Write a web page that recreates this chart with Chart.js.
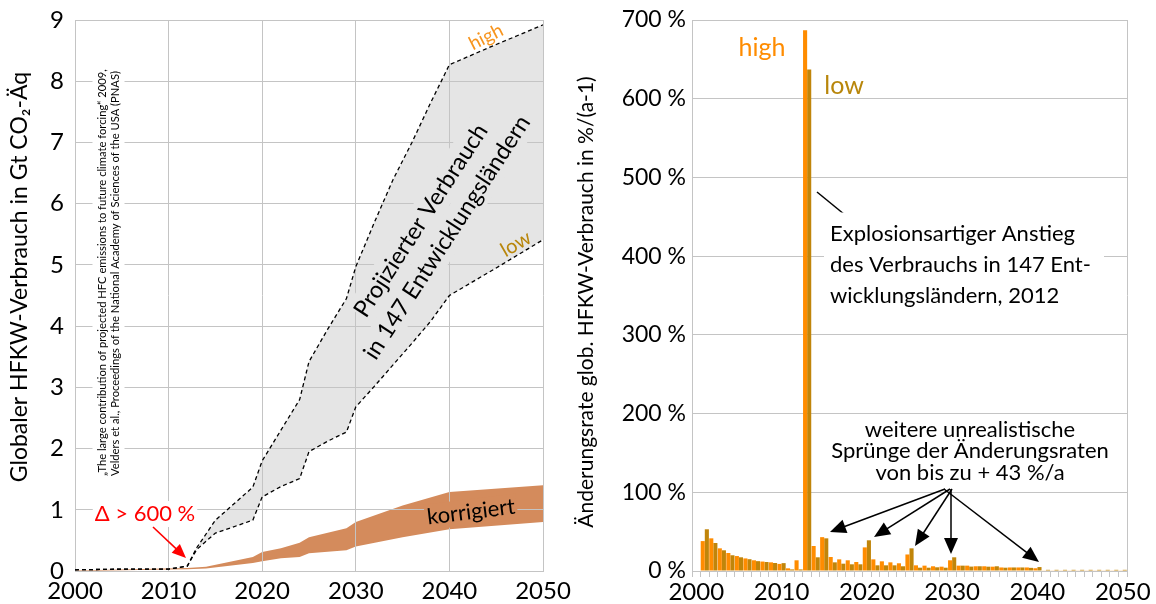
<!DOCTYPE html>
<html>
<head>
<meta charset="utf-8">
<script src="https://cdn.jsdelivr.net/npm/chart.js@4.4.0/dist/chart.umd.min.js"></script>
<style>
    html, body { margin: 0; padding: 0; background: #fff; }
    #wrap { position: relative; width: 1156px; height: 604px; overflow: hidden; }
    canvas { position: absolute; top: 0; }
    #leftChart { left: 0; }
    #rightChart { left: 560px; }
</style>
</head>
<body>
<div id="wrap">
    <canvas id="leftChart" width="578" height="604"></canvas>
    <canvas id="rightChart" width="596" height="604"></canvas>
</div>
<script>
const FONT = 'Lato, "Open Sans", sans-serif';
const GRID = '#c4c4c4';
const ORANGE = '#ff8c00';
const GOLD = '#c0850a';

// Left: projected consumption in 147 developing countries, Gt CO2-eq
const projYears = [2000, 2005, 2010, 2012, 2013, 2015, 2019, 2020, 2022, 2024, 2025, 2027, 2029, 2030, 2032, 2034, 2036, 2038, 2040, 2045, 2050];
const projHigh  = [0.02, 0.03, 0.03, 0.08, 0.38, 0.83, 1.37, 1.80, 2.30, 2.80, 3.42, 3.95, 4.45, 4.97, 5.70, 6.40, 7.00, 7.65, 8.27, 8.60, 8.92];
const projLow   = [0.02, 0.03, 0.03, 0.08, 0.35, 0.62, 0.83, 1.21, 1.38, 1.51, 1.95, 2.12, 2.27, 2.68, 3.02, 3.37, 3.72, 4.08, 4.50, 4.95, 5.41];

// Left: corrected band
const korrYears = [2000, 2012, 2014, 2019, 2020, 2022, 2024, 2025, 2029, 2030, 2035, 2040, 2050];
const korrHigh  = [0.01, 0.05, 0.07, 0.23, 0.31, 0.37, 0.46, 0.55, 0.70, 0.80, 1.07, 1.29, 1.40];
const korrLow   = [0.00, 0.03, 0.04, 0.13, 0.16, 0.21, 0.23, 0.29, 0.34, 0.40, 0.55, 0.68, 0.80];

// Right: annual rate of change in %, high and low scenario
const rateYears = ['2000', '2001', '2002', '2003', '2004', '2005', '2006', '2007', '2008', '2009',
    '2010', '2011', '2012', '2013', '2014', '2015', '2016', '2017', '2018', '2019',
    '2020', '2021', '2022', '2023', '2024', '2025', '2026', '2027', '2028', '2029',
    '2030', '2031', '2032', '2033', '2034', '2035', '2036', '2037', '2038', '2039',
    '2040', '2041', '2042', '2043', '2044', '2045', '2046', '2047', '2048', '2049', '2050'];
const rateHigh = [null, 38, 41.5, 28.8, 22.9, 19, 16, 13.6, 12, 11,
    9, 3.4, 13.6, 687, 31.8, 43, 17.8, 14.8, 13.6, 11.4,
    30, 14.8, 12.3, 11, 9.8, 21, 7.2, 6.8, 6, 5.5,
    13.6, 6.8, 6.8, 6, 6, 5.5, 4.5, 4.5, 4.5, 4.5,
    3.5, 0.8, 0.8, 0.8, 0.8, 0.8, 0.8, 0.8, 0.8, 0.8, 0.8];
const rateLow = [null, 53, 35.6, 26.3, 20, 17.4, 15, 12.5, 11.4, 10.2,
    10, 2, 2, 637, 17.4, 41.5, 11, 9.3, 8.5, 8.5,
    39, 7.2, 7.2, 7.2, 6, 28.8, 4.2, 4.2, 4.7, 4.2,
    17.4, 6.8, 5.6, 6, 5.5, 6, 4.2, 4.5, 4.5, 4,
    5, 1.5, 1.5, 1.5, 1.5, 1.5, 1.5, 1.5, 1.5, 1.5, 1.5];

const leftYTicks = [0, 1, 2, 3, 4, 5, 6, 7, 8, 9];

function pts(xs, ys) {
    return xs.map((x, i) => ({ x: x, y: ys[i] }));
}

// multi-line text, optionally rotated, each line with its own background box
function drawLabel(ctx, lines, x, y, o) {
    ctx.save();
    ctx.translate(x, y);
    ctx.rotate((o.rot || 0) * Math.PI / 180);
    ctx.font = o.font;
    ctx.textBaseline = 'middle';
    ctx.textAlign = o.align || 'center';
    const lh = o.lh;
    const n = lines.length;
    lines.forEach((l, i) => {
        const ly = (i - (n - 1) / 2) * lh;
        if (o.bg) {
            const w = o.boxW || ctx.measureText(l).width;
            const p = o.pad || 0;
            const x0 = o.align === 'left' ? 0 : -w / 2;
            ctx.fillStyle = o.bg;
            ctx.fillRect(x0 - p, ly - lh / 2 - p, w + 2 * p, lh + 2 * p);
        }
    });
    ctx.fillStyle = o.color || '#000';
    lines.forEach((l, i) => ctx.fillText(l, 0, (i - (n - 1) / 2) * lh));
    ctx.restore();
}

function drawArrow(ctx, x1, y1, x2, y2, color, lw, hl, hw) {
    const ang = Math.atan2(y2 - y1, x2 - x1);
    ctx.save();
    ctx.strokeStyle = color;
    ctx.fillStyle = color;
    ctx.lineWidth = lw;
    ctx.beginPath();
    ctx.moveTo(x1, y1);
    ctx.lineTo(x2 - Math.cos(ang) * hl * 0.8, y2 - Math.sin(ang) * hl * 0.8);
    ctx.stroke();
    ctx.translate(x2, y2);
    ctx.rotate(ang);
    ctx.beginPath();
    ctx.moveTo(0, 0);
    ctx.lineTo(-hl, -hw / 2);
    ctx.lineTo(-hl, hw / 2);
    ctx.closePath();
    ctx.fill();
    ctx.restore();
}

// texts and arrows on top of the left chart
const leftOverlay = {
    id: 'leftOverlay',
    afterDraw(chart) {
        const ctx = chart.ctx;
        drawLabel(ctx, ['Globaler HFKW-Verbrauch in Gt CO₂-Äq'], 20, 277,
            { font: '23px ' + FONT, rot: -90, lh: 24 });
        drawLabel(ctx, ['„The large contribution of projected HFC emissions to future climate forcing“ 2009,',
            'Velders et al., Proceedings of the National Academy of Sciences of the USA (PNAS)'], 108.5, 476,
            { font: '11.2px ' + FONT, rot: -90, lh: 13, align: 'left', bg: '#fff', boxW: 420, pad: 3 });
        drawLabel(ctx, ['Projizierter Verbrauch', 'in 147 Entwicklungsländern'], 434, 229,
            { font: '23.5px ' + FONT, rot: -57, lh: 31, bg: '#e5e5e5', pad: 0 });
        drawLabel(ctx, ['high'], 486, 37, { font: '19px ' + FONT, rot: -27, lh: 20, color: '#f7941d' });
        drawLabel(ctx, ['low'], 516, 244, { font: '20px ' + FONT, rot: -30, lh: 20, color: '#b8860b' });
        drawLabel(ctx, ['korrigiert'], 471, 512,
            { font: '22px ' + FONT, rot: -7, lh: 22, bg: '#d48b5c', pad: 2 });
        drawLabel(ctx, ['Δ > 600 %'], 145, 514,
            { font: '22px ' + FONT, lh: 22, color: '#ff0000', bg: '#fff', pad: 2 });
        drawArrow(ctx, 153, 527, 186, 558, '#ff0000', 1.6, 14, 12);
    }
};

// texts and arrows on top of the right chart (page coords shifted by canvas offset)
const OX = 560;
const rightOverlay = {
    id: 'rightOverlay',
    afterDraw(chart) {
        const ctx = chart.ctx;
        const a = chart.chartArea;
        ctx.save();
        ctx.strokeStyle = GRID;
        ctx.lineWidth = 1;
        ctx.beginPath();
        ctx.moveTo(Math.round(a.right) + 0.5, a.top);
        ctx.lineTo(Math.round(a.right) + 0.5, a.bottom);
        ctx.stroke();
        ctx.restore();

        ctx.save();
        ctx.translate(-OX, 0);
        drawLabel(ctx, ['Änderungsrate glob. HFKW-Verbrauch in %/(a-1)'], 586, 302,
            { font: '21px ' + FONT, rot: -90, lh: 24 });
        drawLabel(ctx, ['high'], 762, 48, { font: '25px ' + FONT, lh: 25, color: ORANGE });
        drawLabel(ctx, ['low'], 844, 86, { font: '25px ' + FONT, lh: 25, color: '#b8860b' });

        ctx.strokeStyle = '#000';
        ctx.lineWidth = 1.5;
        ctx.beginPath();
        ctx.moveTo(817, 192);
        ctx.lineTo(850, 219);
        ctx.stroke();

        drawLabel(ctx, ['Explosionsartiger Anstieg', 'des Verbrauchs in 147 Ent-', 'wicklungsländern, 2012'], 830, 265,
            { font: '22px ' + FONT, lh: 31, align: 'left', bg: '#fff', boxW: 268, pad: 6 });
        drawLabel(ctx, ['weitere unrealistische', 'Sprünge der Änderungsraten', 'von bis zu + 43 %/a'], 970, 451,
            { font: '22px ' + FONT, lh: 21.5 });

        drawArrow(ctx, 945, 489, 830, 532, '#000', 1.5, 16, 14);
        drawArrow(ctx, 950, 489, 874, 537, '#000', 1.5, 16, 14);
        drawArrow(ctx, 952, 489, 915, 546, '#000', 1.5, 16, 14);
        drawArrow(ctx, 951, 489, 951, 554, '#000', 1.5, 16, 14);
        drawArrow(ctx, 944, 489, 1039, 562, '#000', 1.5, 16, 14);
        ctx.restore();
    }
};

function fixWidth(w) {
    return scale => { scale.width = w; scale.paddingTop = 0; scale.paddingBottom = 0; };
}
function fixHeight(h) {
    return scale => { scale.height = h; scale.paddingLeft = 0; scale.paddingRight = 0; };
}

document.addEventListener('DOMContentLoaded', () => {
    // filler skips a target with index 0 when drawTime is beforeDraw,
    // so the fill sources point at datasets 1 and 2
    const ctxLeft = document.getElementById('leftChart');
    new Chart(ctxLeft, {
        type: 'line',
        data: {
            datasets: [
                {
                    label: 'korrigiert high',
                    data: pts(korrYears, korrHigh),
                    borderWidth: 0,
                    pointRadius: 0,
                    backgroundColor: '#d48b5c',
                    fill: '+1'
                },
                {
                    label: 'korrigiert low',
                    data: pts(korrYears, korrLow),
                    borderWidth: 0,
                    pointRadius: 0,
                    fill: false
                },
                {
                    label: 'low',
                    data: pts(projYears, projLow),
                    borderColor: '#000',
                    borderWidth: 1.3,
                    borderDash: [4, 3],
                    pointRadius: 0,
                    fill: false
                },
                {
                    label: 'high',
                    data: pts(projYears, projHigh),
                    borderColor: '#000',
                    borderWidth: 1.3,
                    borderDash: [4, 3],
                    pointRadius: 0,
                    backgroundColor: '#e5e5e5',
                    fill: '-1'
                }
            ]
        },
        options: {
            responsive: false,
            animation: false,
            layout: { padding: { top: 20, right: 35, left: 0, bottom: 0 } },
            plugins: {
                legend: { display: false },
                tooltip: { enabled: false },
                filler: { drawTime: 'beforeDraw' }
            },
            scales: {
                x: {
                    type: 'linear',
                    min: 2000,
                    max: 2050,
                    afterFit: fixHeight(33),
                    grid: { color: GRID, lineWidth: 1, drawTicks: false },
                    border: { color: GRID },
                    ticks: {
                        stepSize: 10,
                        padding: 6,
                        color: '#000',
                        font: { family: FONT, size: 24 },
                        callback: v => String(v)
                    }
                },
                y: {
                    min: 0,
                    max: 9,
                    afterFit: fixWidth(75),
                    afterBuildTicks: s => { s.ticks = leftYTicks.map(v => ({ value: v })); },
                    grid: { color: GRID, lineWidth: 1, drawTicks: false },
                    border: { color: GRID },
                    ticks: {
                        padding: 11,
                        color: '#000',
                        font: { family: FONT, size: 24 }
                    }
                }
            }
        },
        plugins: [leftOverlay]
    });

    const ctxRight = document.getElementById('rightChart');
    new Chart(ctxRight, {
        type: 'bar',
        data: {
            labels: rateYears,
            datasets: [
                {
                    label: 'high',
                    data: rateHigh,
                    backgroundColor: ORANGE,
                    borderWidth: 0,
                    categoryPercentage: 0.96,
                    barPercentage: 1.0
                },
                {
                    label: 'low',
                    data: rateLow,
                    backgroundColor: GOLD,
                    borderWidth: 0,
                    categoryPercentage: 0.96,
                    barPercentage: 1.0
                }
            ]
        },
        options: {
            responsive: false,
            animation: false,
            layout: { padding: { top: 20, right: 29, left: 0, bottom: 0 } },
            plugins: {
                legend: { display: false },
                tooltip: { enabled: false }
            },
            scales: {
                x: {
                    afterFit: fixHeight(33),
                    grid: { display: true, drawOnChartArea: false, drawTicks: true, tickLength: 6, color: GRID, offset: true },
                    border: { color: GRID },
                    ticks: {
                        autoSkip: false,
                        maxRotation: 0,
                        padding: 1,
                        color: '#000',
                        font: { family: FONT, size: 24 },
                        callback: function (v) {
                            const y = this.getLabelForValue(v);
                            return Number(y) % 10 === 0 ? y : '';
                        }
                    }
                },
                y: {
                    min: 0,
                    max: 700,
                    afterFit: fixWidth(132),
                    grid: { color: GRID, lineWidth: 1, drawTicks: false },
                    border: { color: GRID },
                    ticks: {
                        stepSize: 100,
                        padding: 6,
                        color: '#000',
                        font: { family: FONT, size: 23 },
                        callback: v => v + ' %'
                    }
                }
            }
        },
        plugins: [rightOverlay]
    });
});
</script>
</body>
</html>
